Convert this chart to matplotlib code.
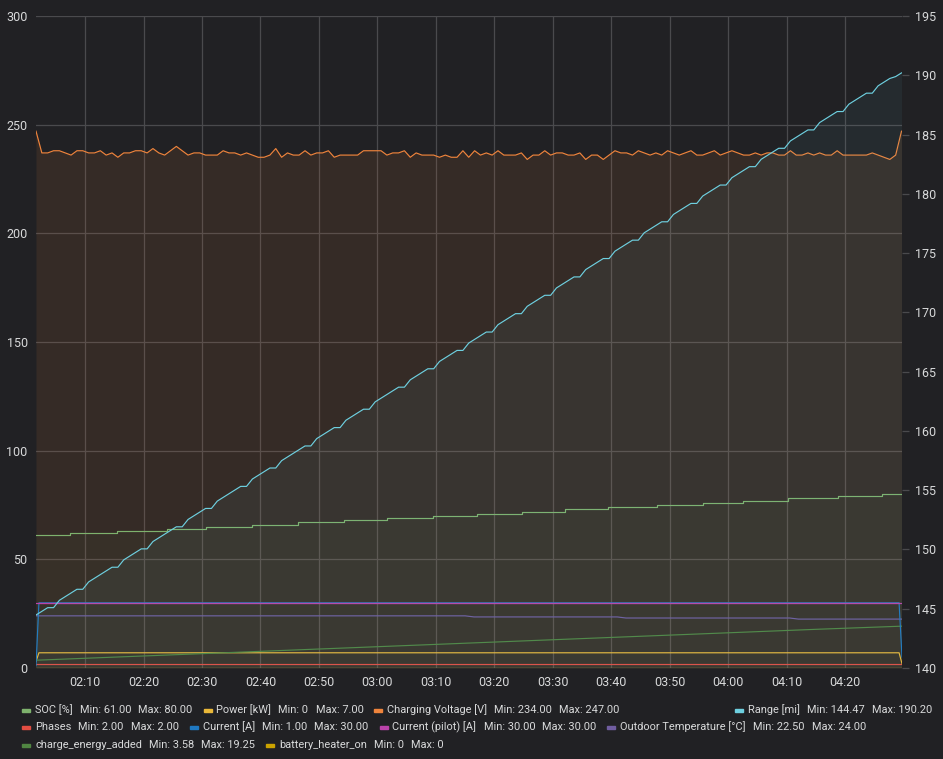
import matplotlib
matplotlib.use('Agg')
import matplotlib.pyplot as plt
import matplotlib.dates as mdates
from matplotlib.patches import Rectangle
import pandas as pd

plt.rcParams['font.family'] = ['Roboto', 'DejaVu Sans']

day = '2021-03-20 '
start = pd.Timestamp(day + '02:01:37')
end = pd.Timestamp(day + '04:29:42')

# one sample per minute from start
voltage = [247, 237, 237, 238, 238, 237, 236, 238, 238, 237,
           237, 238, 236, 237, 235, 237, 237, 238, 238, 237,
           239, 237, 236, 238, 240, 238, 236, 237, 237, 236,
           236, 236, 238, 237, 237, 236, 237, 236, 235, 235,
           236, 239, 235, 237, 236, 236, 238, 236, 237, 237,
           238, 235, 236, 236, 236, 236, 238, 238, 238, 238,
           236, 237, 237, 238, 235, 237, 236, 236, 236, 235,
           236, 235, 235, 238, 235, 238, 236, 237, 236, 238,
           236, 236, 236, 237, 234, 236, 236, 238, 236, 237,
           237, 236, 236, 237, 234, 236, 236, 234, 236, 238,
           237, 237, 236, 238, 237, 236, 237, 236, 238, 237,
           236, 237, 238, 236, 236, 237, 238, 236, 237, 238,
           237, 236, 236, 237, 236, 237, 237, 236, 236, 238,
           236, 236, 237, 236, 237, 236, 236, 238, 236, 236,
           236, 236, 236, 237, 236, 235, 234, 236, 247]

range_mi = [144.47, 144.78, 145.09, 145.09, 145.71, 146.02, 146.33, 146.64, 146.64, 147.26,
            147.57, 147.88, 148.19, 148.50, 148.50, 149.12, 149.43, 149.74, 150.05, 150.05,
            150.67, 150.98, 151.29, 151.60, 151.91, 151.91, 152.53, 152.84, 153.15, 153.46,
            153.46, 154.08, 154.39, 154.70, 155.01, 155.32, 155.32, 155.94, 156.25, 156.56,
            156.87, 156.87, 157.49, 157.80, 158.11, 158.42, 158.73, 158.73, 159.35, 159.66,
            159.97, 160.28, 160.28, 160.90, 161.21, 161.52, 161.83, 161.83, 162.45, 162.76,
            163.07, 163.38, 163.69, 163.69, 164.31, 164.62, 164.93, 165.24, 165.24, 165.86,
            166.17, 166.48, 166.79, 166.79, 167.41, 167.72, 168.03, 168.34, 168.34, 168.96,
            169.27, 169.58, 169.89, 169.89, 170.51, 170.82, 171.13, 171.44, 171.44, 172.06,
            172.37, 172.68, 172.99, 172.99, 173.61, 173.92, 174.23, 174.54, 174.54, 175.16,
            175.47, 175.78, 176.09, 176.09, 176.71, 177.02, 177.33, 177.64, 177.64, 178.26,
            178.57, 178.88, 179.19, 179.19, 179.81, 180.12, 180.43, 180.74, 180.74, 181.36,
            181.67, 181.98, 182.29, 182.29, 182.91, 183.22, 183.53, 183.84, 183.84, 184.46,
            184.77, 185.08, 185.39, 185.39, 186.01, 186.32, 186.63, 186.94, 186.94, 187.56,
            187.87, 188.18, 188.49, 188.49, 189.11, 189.42, 189.73, 189.89, 190.20]

soc_times = ['02:01:37', '02:07:24', '02:15:30', '02:24:00', '02:30:42', '02:38:30',
             '02:46:24', '02:54:18', '03:01:36', '03:09:30', '03:17:00', '03:24:42',
             '03:32:06', '03:39:24', '03:47:48', '03:55:36', '04:02:30', '04:10:12',
             '04:18:42', '04:26:12']
soc = [61, 62, 63, 64, 65, 66, 67, 68, 69, 70, 71, 72, 73, 74, 75, 76, 77, 78, 79, 80]

temp_times = ['02:01:37', '03:15:00', '03:16:30', '03:41:00', '03:42:30', '04:10:30', '04:12:00', '04:29:42']
temp = [24.0, 24.0, 23.5, 23.5, 23.0, 23.0, 22.5, 22.5]

energy_times = ['02:01:37', '02:15:00', '02:30:00', '02:45:00', '03:00:00', '03:15:00',
                '03:30:00', '03:45:00', '04:00:00', '04:15:00', '04:29:42']
energy = [3.58, 5.0, 6.6, 8.2, 9.8, 11.4, 13.0, 14.6, 16.2, 17.8, 19.25]

edge_times = ['02:01:37', '02:02:07', '04:29:12', '04:29:42']
current = [1, 30, 30, 5]
power = [3, 7, 7, 2]
pilot = [30, 30, 30, 30]
phases = [2, 2, 2, 2]
heater = [0, 0, 0, 0]

colors = {
    'soc': '#7EB26D', 'power': '#EAB839', 'voltage': '#EF843C', 'range': '#6ED0E0',
    'phases': '#E24D42', 'current': '#1F78C1', 'pilot': '#BA43A9', 'temp': '#705DA0',
    'energy': '#508642', 'heater': '#CCA300',
}

# legend: (series key, name, min, max); 'range' sits on the right
legend_rows = [
    [('soc', 'SOC [%]', '61.00', '80.00'),
     ('power', 'Power [kW]', '0', '7.00'),
     ('voltage', 'Charging Voltage [V]', '234.00', '247.00')],
    [('phases', 'Phases', '2.00', '2.00'),
     ('current', 'Current [A]', '1.00', '30.00'),
     ('pilot', 'Current (pilot) [A]', '30.00', '30.00'),
     ('temp', 'Outdoor Temperature [°C]', '22.50', '24.00')],
    [('energy', 'charge_energy_added', '3.58', '19.25'),
     ('heater', 'battery_heater_on', '0', '0')],
]
right_item = ('range', 'Range [mi]', '144.47', '190.20')

def ts(lst):
    return [pd.Timestamp(day + s) for s in lst]

bg = '#212124'
grid_c = '#4a4a4d'
text_c = '#d8d9da'
W, H = 943, 759

fig = plt.figure(figsize=(W / 100, H / 100), dpi=100, facecolor=bg)
ax = fig.add_axes([36 / W, (H - 668) / H, (902 - 36) / W, (668 - 16) / H])
ax.set_facecolor(bg)
ax2 = ax.twinx()

minute_times = pd.date_range(start, periods=len(voltage), freq='min')
lw = 0.85

# left axis series
ax.fill_between(minute_times, voltage, 0, color=colors['voltage'], alpha=0.1, lw=0)
ax.plot(minute_times, voltage, color=colors['voltage'], lw=lw)

soc_x = ts(soc_times) + [end]
soc_y = soc + [soc[-1]]
ax.fill_between(soc_x, soc_y, 0, step='post', color=colors['soc'], alpha=0.04, lw=0)
ax.step(soc_x, soc_y, where='post', color=colors['soc'], lw=lw)

ax.plot(ts(edge_times), heater, color=colors['heater'], lw=lw)
ax.plot(ts(edge_times), phases, color=colors['phases'], lw=lw)
ax.plot(ts(edge_times), power, color=colors['power'], lw=lw)
ax.plot(ts(energy_times), energy, color=colors['energy'], lw=lw)
ax.plot(ts(temp_times), temp, color=colors['temp'], lw=lw)
ax.plot(ts(edge_times), current, color=colors['current'], lw=lw, zorder=2)
ax.plot(ts(edge_times)[1:3], pilot[1:3], color=colors['pilot'], lw=lw, zorder=4)
ax.plot(ts(edge_times), pilot, color=colors['pilot'], lw=lw, zorder=4)

# right axis
ax2.fill_between(minute_times, range_mi, 140, color=colors['range'], alpha=0.06, lw=0)
ax2.plot(minute_times, range_mi, color=colors['range'], lw=lw)

ax.set_xlim(start, end)
ax.set_ylim(0, 300)
ax2.set_ylim(140, 195)
ax.set_yticks(range(0, 301, 50))
ax2.set_yticks(range(140, 196, 5))

ax.xaxis.set_major_locator(mdates.MinuteLocator(byminute=range(0, 60, 10)))
ax.xaxis.set_major_formatter(mdates.DateFormatter('%H:%M'))

ax.grid(True, color=grid_c, lw=0.9)
ax.set_axisbelow(True)
for a in (ax, ax2):
    for s in a.spines.values():
        s.set_visible(False)
ax.tick_params(axis='both', length=0, colors=text_c, labelsize=9)
ax.tick_params(axis='y', pad=6)
ax.tick_params(axis='x', pad=6)
ax2.tick_params(axis='y', length=5, width=0.9, color=grid_c, colors=text_c, labelsize=9, pad=4)

# legend, laid out left to right like the grafana legend
renderer = fig.canvas.get_renderer()
fs = 7.9
gap_val = 7
gap_item = 11


def put(x, y, s):
    t = fig.text(x / W, 1 - y / H, s, color=text_c, fontsize=fs, va='center', ha='left')
    return t.get_window_extent(renderer).x1


def swatch(x, y, key):
    fig.patches.append(Rectangle((x / W, 1 - (y + 1.5) / H), 8 / W, 3 / H,
                                 transform=fig.transFigure, color=colors[key]))


def item(x, y, key, name, vmin, vmax):
    swatch(x, y, key)
    x = put(x + 13, y, name) + gap_val
    x = put(x, y, 'Min: ' + vmin) + gap_val
    return put(x, y, 'Max: ' + vmax)


row_y = [710, 727, 745]
for y, row in zip(row_y, legend_rows):
    x = 22
    for key, name, vmin, vmax in row:
        x = item(x, y, key, name, vmin, vmax) + gap_item

# right aligned item: measure once, then place
probe = fig.text(0, 0, right_item[1], fontsize=fs)
probe2 = fig.text(0, 0, 'Min: ' + right_item[2], fontsize=fs)
probe3 = fig.text(0, 0, 'Max: ' + right_item[3], fontsize=fs)
width = sum(p.get_window_extent(renderer).width for p in (probe, probe2, probe3)) + 2 * gap_val + 13
for p in (probe, probe2, probe3):
    p.remove()
item(932 - width, row_y[0], *right_item)

fig.savefig('out.png', dpi=100, facecolor=bg)
